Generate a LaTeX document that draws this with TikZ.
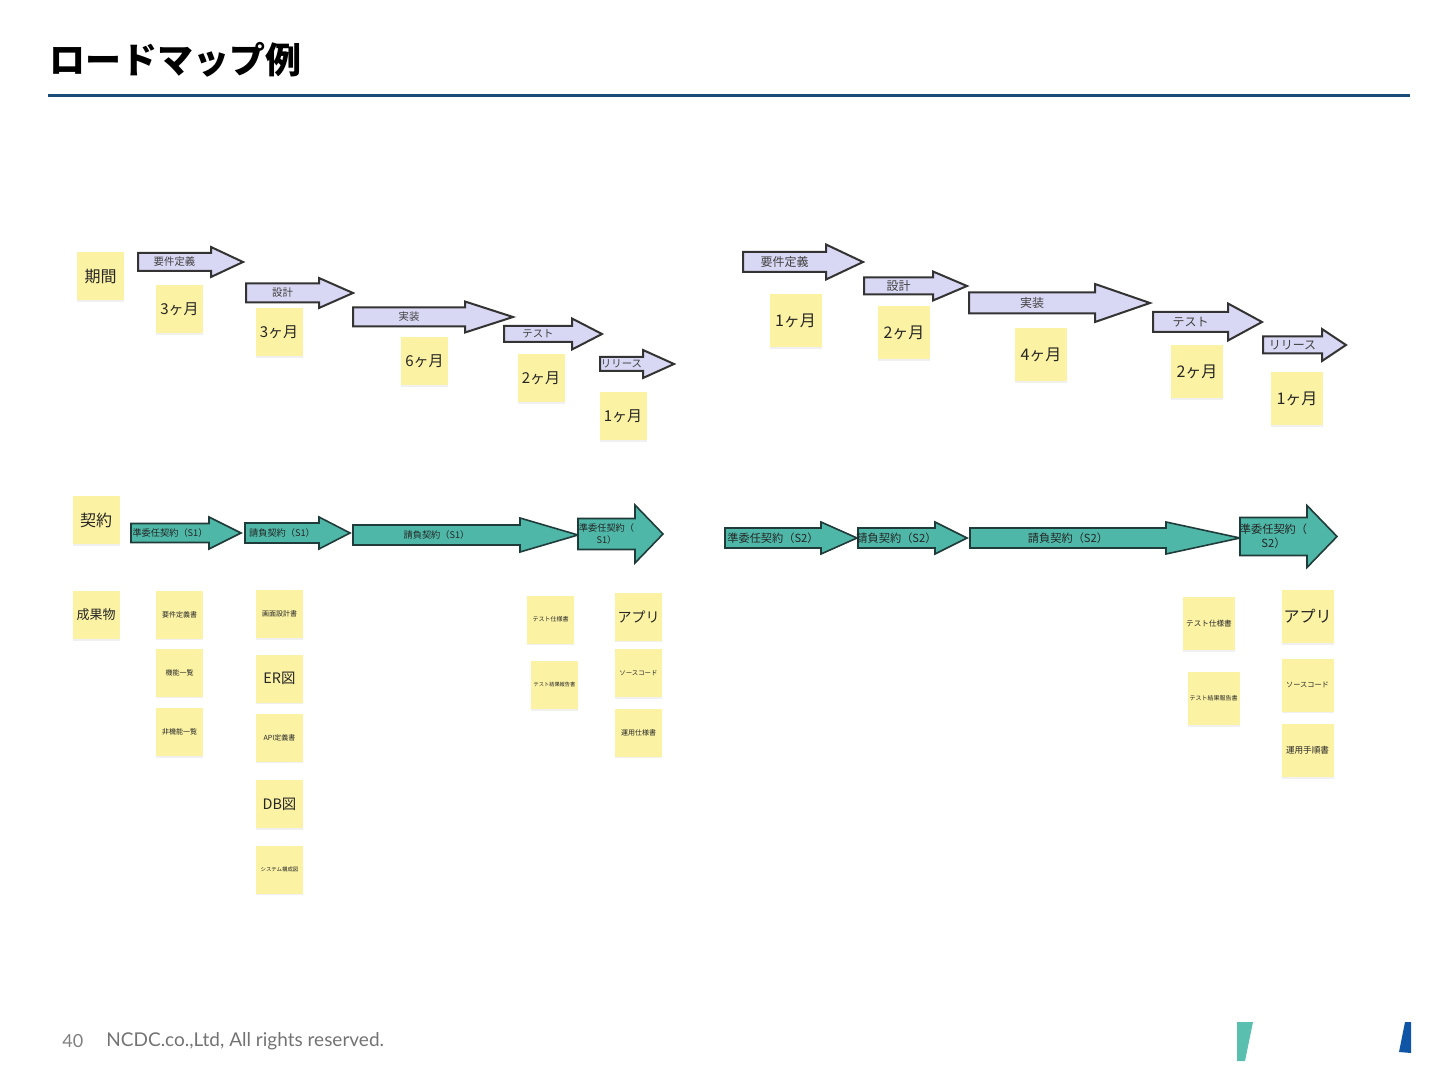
\documentclass[tikz,border=0pt]{standalone}
\usepackage{fontspec}
\setmainfont{Noto Sans CJK JP}
\newfontfamily\footfont{Lato}
\usetikzlibrary{shadows}
\definecolor{notey}{HTML}{FBF2A4}
\definecolor{lavend}{HTML}{D9D8F4}
\definecolor{tealfill}{HTML}{4FB7A7}
\definecolor{tealline}{HTML}{1F3B3A}
\definecolor{rulebl}{HTML}{1B4B77}
\definecolor{logoteal}{HTML}{5BBFB0}
\definecolor{logoblue}{HTML}{0F55A5}

\tikzset{
  note/.style={fill=notey, minimum width=23.5pt, minimum height=24pt, inner sep=0pt,
    align=center, text=black!85, font=\fontsize{7.5}{8}\selectfont,
    drop shadow={opacity=0.12, shadow xshift=0pt, shadow yshift=-0.8pt}},
  wide note/.style={note, minimum width=26pt, minimum height=26.5pt},
  head note/.style={note, font=\fontsize{8}{9}\selectfont},
  tiny note/.style={note, font=\fontsize{3.5}{4}\selectfont},
  big note/.style={note, font=\fontsize{7.2}{8}\selectfont},
  period/.style={draw=black!80, fill=lavend, line width=1pt, line join=miter},
  period text/.style={inner sep=0pt, text=black!75, font=\fontsize{5.2}{6}\selectfont},
  contract/.style={draw=tealline, fill=tealfill, line width=0.8pt, line join=miter},
  contract text/.style={inner sep=0pt, text=black!85, align=center,
    font=\fontsize{4.6}{6}\selectfont},
}

% style, name, left, head base, tip, y, body half, head half, label
\newcommand{\roadarrow}[9]{%
  \draw[#1] (#3,#6-#7) -- (#4,#6-#7) -- (#4,#6-#8) -- (#5,#6)
    -- (#4,#6+#8) -- (#4,#6+#7) -- (#3,#6+#7) -- cycle;
  \node[#1 text] (#2) at ({(#3+#4)/2},#6) {#9};
}

\begin{document}
\begin{tikzpicture}[x=0.5pt, y=-0.5pt]
    \useasboundingbox (0,0) rectangle (1440,1080);

    % Header
    \node[anchor=west, inner sep=0pt, font=\bfseries\fontsize{18}{20}\selectfont] (title) at (49,60) {ロードマップ例};
    \draw[rulebl, line width=1.5pt] (48,96) -- (1410,96);

    % ---- Left plan: periods
    \node[head note] (lkikan) at (100.5,276.5) {期間};
    \roadarrow{period}{lreq}{138}{211}{243}{262}{9}{15}{要件定義}
    \roadarrow{period}{ldes}{246}{319}{353}{293}{9.5}{15}{設計}
    \roadarrow{period}{limp}{353}{465}{513}{317}{9.5}{15.5}{実装}
    \roadarrow{period}{ltest}{504}{572}{602}{334}{8}{15.5}{テスト}
    \roadarrow{period}{lrel}{600}{643}{674}{364}{7}{14}{リリース}
    \node[note] (lreqm) at (179.5,309) {3ヶ月};
    \node[note] (ldesm) at (279,332) {3ヶ月};
    \node[note] (limpm) at (424.5,361.5) {6ヶ月};
    \node[note] (ltestm) at (541,378.5) {2ヶ月};
    \node[note] (lrelm) at (623,416) {1ヶ月};

    % ---- Left plan: contracts
    \node[head note] (lkeiyaku) at (96,520) {契約};
    \roadarrow{contract}{lc1}{131}{209}{241}{533}{9.5}{16}{準委任契約（S1）}
    \roadarrow{contract}{lc2}{245}{319}{350}{533}{10}{16}{請負契約（S1）}
    \roadarrow{contract}{lc3}{353}{520}{578}{535}{10}{17}{請負契約（S1）}
    \roadarrow{contract}{lc4}{578}{635}{663}{534}{15.5}{29}{準委任契約（\\S1）}

    % ---- Left plan: deliverables
    \node[note, font=\fontsize{6.5}{7}\selectfont] (lseika) at (96,615) {成果物};
    \node[tiny note] (lreqdoc) at (179.5,614.5) {要件定義書};
    \node[tiny note] (lfunc) at (179.5,672.5) {機能一覧};
    \node[tiny note] (lnonfunc) at (179.5,732) {非機能一覧};
    \node[tiny note] (lscreen) at (279.5,614) {画面設計書};
    \node[big note] (ler) at (279.5,678.5) {ER図};
    \node[tiny note] (lapi) at (279.5,737.5) {API定義書};
    \node[big note] (ldb) at (279.5,804) {DB図};
    \node[tiny note, font=\fontsize{2.7}{3}\selectfont] (lsys) at (279.5,869.5) {システム構成図};
    \node[tiny note, font=\fontsize{3}{3.5}\selectfont] (ltspec) at (550.5,619.5) {テスト仕様書};
    \node[tiny note, font=\fontsize{2.6}{3}\selectfont] (ltres) at (554.5,685) {テスト結果報告書};
    \node[big note, font=\fontsize{7}{8}\selectfont] (lapp) at (638.5,616.5) {アプリ};
    \node[tiny note, font=\fontsize{3.2}{4}\selectfont] (lsrc) at (638.5,673) {ソースコード};
    \node[tiny note] (lops) at (638.5,732.5) {運用仕様書};

    % ---- Right plan (drawn a bit larger)
    \begin{scope}[period text/.append style={font=\fontsize{6}{7}\selectfont},
                  contract text/.append style={font=\fontsize{5.6}{7}\selectfont},
                  note/.append style={font=\fontsize{8}{9}\selectfont}]
    \roadarrow{period}{rreq}{743}{826}{863}{262}{10}{17.5}{要件定義}
    \roadarrow{period}{rdes}{864}{933}{967}{286}{8.5}{14.5}{設計}
    \roadarrow{period}{rimp}{969}{1095}{1150}{303}{10.5}{19}{実装}
    \roadarrow{period}{rtest}{1153}{1228}{1262}{322}{10}{18.5}{テスト}
    \roadarrow{period}{rrel}{1263}{1322}{1346}{345}{8.5}{16}{リリース}
    \node[wide note] (rreqm) at (795.5,321) {1ヶ月};
    \node[wide note] (rdesm) at (904,333) {2ヶ月};
    \node[wide note] (rimpm) at (1041,354.5) {4ヶ月};
    \node[wide note] (rtestm) at (1197,371.5) {2ヶ月};
    \node[wide note] (rrelm) at (1297,398.5) {1ヶ月};

    \roadarrow{contract}{rc1}{725}{821}{857}{538}{10}{16}{準委任契約（S2）}
    \roadarrow{contract}{rc2}{858}{935}{967}{538}{10}{16}{請負契約（S2）}
    \roadarrow{contract}{rc3}{970}{1166}{1240}{538}{10}{16}{請負契約（S2）}
    \roadarrow{contract}{rc4}{1240}{1307}{1337}{536.5}{19}{31}{準委任契約（\\S2）}

    \node[wide note, font=\fontsize{3.8}{5}\selectfont] (rtspec) at (1209,623.5) {テスト仕様書};
    \node[wide note, font=\fontsize{3}{4}\selectfont] (rtres) at (1213.5,698.5) {テスト結果報告書};
    \node[wide note, font=\fontsize{8}{9}\selectfont] (rapp) at (1307.5,616.5) {アプリ};
    \node[wide note, font=\fontsize{3.6}{5}\selectfont] (rsrc) at (1307.5,685) {ソースコード};
    \node[wide note, font=\fontsize{4.3}{5}\selectfont] (rops) at (1307.5,750.5) {運用手順書};
    \end{scope}

    % Footer
    \node[anchor=west, inner sep=0pt, text=black!50, font=\footfont\fontsize{9}{10}\selectfont] (pagenum) at (62,1041) {40};
    \node[anchor=west, inner sep=0pt, text=black!55, font=\footfont\fontsize{9.5}{10}\selectfont] (copyright) at (106,1041) {NCDC.co.,Ltd, All rights reserved.};
    \fill[logoteal] (1237,1022) -- (1253,1022) -- (1245,1061) -- (1237,1061) -- cycle;
    \fill[logoblue] (1405,1022) -- (1411,1022) -- (1411,1053) -- (1399,1052) -- cycle;
\end{tikzpicture}
\end{document}
